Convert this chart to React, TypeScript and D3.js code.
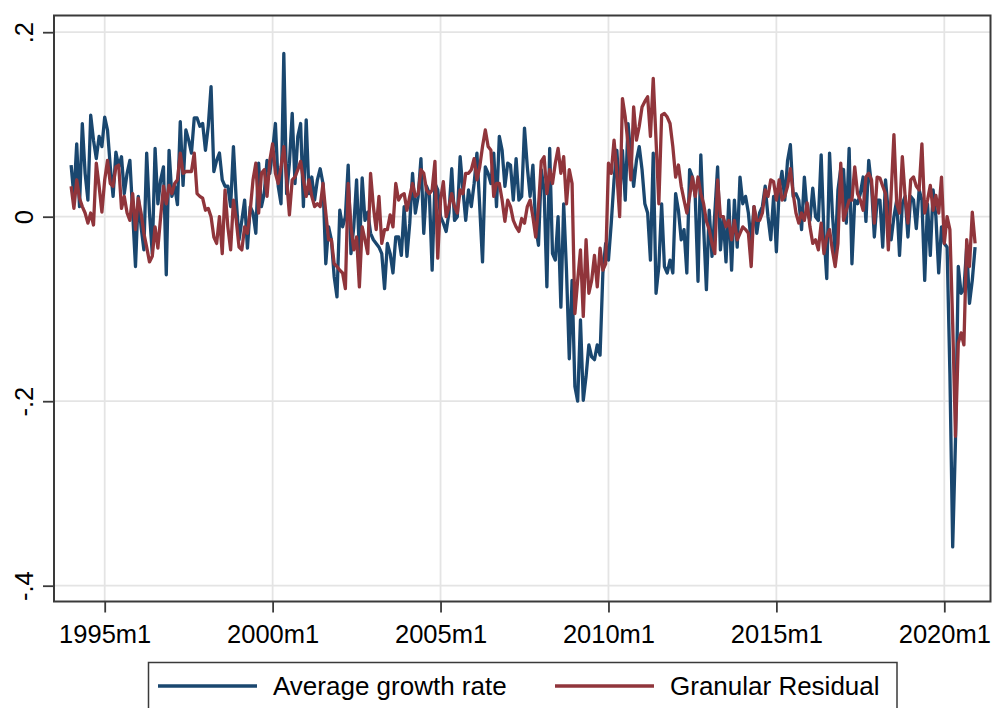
import * as d3 from "d3";
import React from "react";

// monthly series, first value is 1994m1
const startYear = 1994;

const avgGrowth = [
  0.056, 0.022, 0.079, 0.011, 0.101, 0.047, 0.018, 0.11, 0.083, 0.063, 0.087, 0.076,
  0.108, 0.094, 0.054, 0.022, 0.07, 0.054, 0.065, 0.025, 0.047, 0.061, 0.004, -0.054,
  0.022, -0.011, -0.036, 0.069, 0.004, -0.04, 0.074, 0.014, 0.04, 0.054, -0.063, 0.072,
  0.022, 0.033, 0.013, 0.103, 0.034, 0.094, 0.083, 0.069, 0.107, 0.107, 0.098, 0.101,
  0.072, 0.098, 0.141, 0.049, 0.061, 0.069, 0.04, 0.033, 0.033, 0.011, 0.076, 0.018,
  -0.025, -0.004, 0.018, -0.034, 0.011, 0.004, -0.018, 0.058, 0.011, 0.025, 0.061, 0.047,
  0.072, 0.101, 0.033, 0.014, 0.177, 0.025, 0.058, 0.112, 0.036, 0.087, 0.101, 0.011,
  0.105, 0.025, 0.043, 0.018, 0.04, 0.052, 0.036, -0.051, -0.011, -0.025, -0.065, -0.087,
  0.007, -0.011, 0.0, 0.056, -0.04, -0.011, 0.04, -0.04, 0.042, -0.004, 0.005, -0.018,
  -0.025, -0.029, -0.033, -0.04, -0.078, -0.029, -0.04, -0.061, -0.022, -0.022, -0.042, 0.011,
  -0.043, -0.007, 0.047, 0.004, 0.022, 0.063, -0.018, 0.033, 0.025, -0.058, 0.036, 0.029,
  0.0, -0.007, -0.016, 0.004, 0.052, -0.004, 0.0, 0.065, 0.029, -0.004, 0.029, 0.011,
  0.036, 0.069, 0.011, -0.049, 0.054, 0.047, 0.036, 0.069, 0.011, 0.087, 0.072, 0.033,
  0.058, 0.056, 0.018, 0.063, 0.018, 0.022, 0.096, 0.054, 0.022, 0.056, -0.011, -0.031,
  0.051, 0.029, -0.076, 0.074, -0.04, -0.047, 0.0, -0.098, 0.014, -0.058, -0.154, -0.069,
  -0.184, -0.2, -0.112, -0.199, -0.173, -0.139, -0.152, -0.155, -0.139, -0.15, -0.061, -0.029,
  -0.047, -0.007, 0.04, 0.072, 0.022, 0.072, 0.018, 0.101, 0.065, 0.033, 0.061, 0.076,
  0.051, 0.014, 0.004, -0.047, 0.069, -0.083, -0.054, 0.014, -0.054, -0.061, -0.047, -0.061,
  0.025, 0.007, -0.025, -0.014, -0.061, 0.051, 0.043, 0.022, -0.07, 0.067, -0.011, -0.079,
  0.007, -0.043, 0.004, 0.054, -0.036, 0.0, -0.049, 0.018, -0.058, 0.018, -0.033, 0.043,
  0.014, 0.022, 0.004, -0.029, 0.011, -0.018, 0.004, 0.011, 0.033, 0.0, -0.025, 0.022,
  -0.038, 0.029, 0.049, 0.018, 0.061, 0.078, 0.022, 0.025, 0.018, -0.014, 0.043, 0.005,
  -0.004, 0.031, 0.0, -0.004, 0.067, -0.018, -0.067, 0.069, 0.004, -0.04, 0.029, 0.052,
  0.051, -0.007, 0.074, -0.051, 0.018, 0.014, 0.025, 0.043, -0.005, 0.061, 0.033, -0.022,
  0.018, 0.018, -0.033, 0.04, 0.004, -0.025, 0.0, 0.018, -0.042, 0.014, 0.022, -0.022,
  0.022, 0.018, -0.013, 0.029, 0.018, -0.069, 0.014, -0.042, 0.029, 0.0, -0.061, -0.011,
  -0.029, -0.033, -0.17, -0.358, -0.242, -0.054, -0.083, -0.079, -0.033, -0.094, -0.069, -0.033,
];

const granularResidual = [
  0.033, 0.009, 0.04, 0.02, 0.011, 0.004, -0.007, 0.004, -0.009, 0.058, 0.033, 0.005,
  0.04, 0.061, 0.036, 0.033, 0.054, 0.056, 0.009, 0.022, 0.004, -0.004, 0.025, -0.014,
  0.02, 0.004, -0.018, -0.033, -0.049, -0.043, -0.011, -0.034, 0.0, 0.033, 0.014, 0.034,
  0.025, 0.036, 0.04, 0.069, 0.047, 0.049, 0.049, 0.049, 0.069, 0.025, 0.022, 0.02,
  0.007, 0.009, 0.0, -0.022, -0.029, 0.0, -0.04, 0.029, -0.011, -0.036, 0.018, -0.004,
  -0.033, -0.036, -0.011, -0.018, 0.007, 0.04, 0.058, 0.004, 0.047, 0.051, 0.022, 0.061,
  0.079, 0.047, 0.036, 0.054, 0.076, 0.04, 0.002, 0.04, 0.043, 0.051, 0.06, 0.04,
  0.022, 0.04, 0.022, 0.011, 0.014, 0.011, 0.036, 0.004, -0.025, -0.025, -0.051, -0.054,
  -0.058, -0.061, -0.078, 0.036, -0.011, -0.036, -0.022, -0.076, -0.011, -0.025, -0.04, 0.047,
  0.011, -0.014, 0.022, -0.029, -0.014, -0.014, 0.002, -0.011, 0.036, 0.018, 0.023, 0.025,
  0.007, 0.022, 0.036, 0.022, 0.025, 0.051, 0.047, 0.029, 0.025, 0.029, 0.06, -0.045,
  0.018, 0.038, 0.0, 0.011, 0.025, 0.011, 0.004, 0.029, 0.025, 0.047, 0.047, 0.051,
  0.063, 0.04, 0.054, 0.076, 0.094, 0.076, 0.072, 0.022, 0.036, 0.036, 0.018, -0.005,
  0.018, 0.011, -0.004, -0.011, -0.016, -0.002, -0.007, 0.011, 0.018, 0.0, -0.022, 0.011,
  0.06, 0.065, 0.025, 0.051, 0.036, 0.058, 0.074, 0.047, 0.065, 0.014, 0.051, 0.036,
  -0.105, -0.069, -0.036, -0.108, -0.025, -0.083, -0.069, -0.042, -0.076, -0.034, -0.058, -0.051,
  0.058, 0.047, 0.083, 0.047, 0.0, 0.128, 0.108, 0.079, 0.04, 0.119, 0.083, 0.098,
  0.119, 0.125, 0.13, 0.087, 0.15, 0.083, 0.014, 0.11, 0.112, 0.108, 0.101, 0.076,
  0.043, 0.056, 0.033, 0.018, 0.004, 0.022, 0.043, 0.022, 0.043, 0.025, 0.014, -0.005,
  -0.014, -0.029, -0.04, 0.04, 0.0, 0.0, -0.011, -0.004, -0.025, -0.004, -0.025, -0.018,
  -0.011, -0.014, -0.018, -0.054, 0.011, -0.004, -0.004, 0.004, 0.029, 0.022, 0.04, 0.038,
  0.018, 0.04, 0.018, 0.022, 0.033, 0.052, 0.025, 0.004, -0.007, 0.004, -0.004, 0.015,
  -0.011, -0.029, -0.025, -0.036, -0.007, -0.04, -0.022, -0.014, -0.036, -0.054, -0.029, 0.058,
  -0.004, 0.007, 0.018, 0.018, 0.054, 0.025, 0.018, 0.007, 0.043, 0.047, 0.04, -0.007,
  0.043, 0.042, 0.033, 0.025, -0.036, 0.025, 0.089, 0.014, 0.004, 0.065, 0.022, -0.007,
  0.04, 0.043, 0.033, 0.029, 0.079, 0.004, 0.018, 0.034, 0.007, 0.023, 0.004, 0.043,
  -0.029, 0.0, -0.014, -0.116, -0.238, -0.137, -0.126, -0.139, -0.025, -0.054, 0.005, -0.029,
];

const xTickLabels = ["1995m1", "2000m1", "2005m1", "2010m1", "2015m1", "2020m1"];
const yTickValues = [0.2, 0, -0.2, -0.4];
const yTickLabels = [".2", "0", "-.2", "-.4"];
const seriesNames = ["Average growth rate", "Granular Residual"];
const seriesColors = ["#1a476f", "#90353b"];

const font = "'Liberation Sans', Arial, Helvetica, sans-serif";

// "1995m1" -> months since startYear m1
const monthIndex = (label: string): number => {
  const [y, m] = label.split("m").map(Number);
  return (y - startYear) * 12 + m - 1;
};

const App = (): React.ReactElement => {
  const chartRef = React.useRef<SVGSVGElement>(null);

  React.useEffect(() => {
    const svg = d3.select(chartRef.current);
    svg.selectAll("*").remove();

    const frame = { left: 54, right: 990.5, top: 15.5, bottom: 601.5 };

    const xScale = d3.scaleLinear().domain([12, 312]).range([104.7, 944.3]);
    const yScale = d3.scaleLinear().domain([-0.4, 0.2]).range([585.7, 32.2]);

    svg.append("rect").attr("width", 993).attr("height", 708).attr("fill", "#fff");

    // grid
    const grid = svg.append("g").attr("stroke", "#e4e4e4").attr("stroke-width", 1.8);
    grid
      .selectAll("line.vgrid")
      .data(xTickLabels.map(monthIndex))
      .join("line")
      .attr("class", "vgrid")
      .attr("x1", (d) => xScale(d))
      .attr("x2", (d) => xScale(d))
      .attr("y1", frame.top)
      .attr("y2", frame.bottom);
    grid
      .selectAll("line.hgrid")
      .data(yTickValues)
      .join("line")
      .attr("class", "hgrid")
      .attr("x1", frame.left)
      .attr("x2", frame.right)
      .attr("y1", (d) => yScale(d))
      .attr("y2", (d) => yScale(d));

    // lines
    const line = d3
      .line<number>()
      .x((_, i) => xScale(i))
      .y((d) => yScale(d));

    [avgGrowth, granularResidual].forEach((series, i) => {
      svg
        .append("path")
        .datum(series)
        .attr("fill", "none")
        .attr("stroke", seriesColors[i])
        .attr("stroke-width", 3.3)
        .attr("stroke-linejoin", "round")
        .attr("d", line);
    });

    // plot frame
    svg
      .append("rect")
      .attr("x", frame.left)
      .attr("y", frame.top)
      .attr("width", frame.right - frame.left)
      .attr("height", frame.bottom - frame.top)
      .attr("fill", "none")
      .attr("stroke", "#3a3a3a")
      .attr("stroke-width", 2);

    // x axis
    const xAxis = d3
      .axisBottom(xScale)
      .tickValues(xTickLabels.map(monthIndex))
      .tickFormat((_, i) => xTickLabels[i])
      .tickSize(11)
      .tickPadding(12);
    svg
      .append("g")
      .attr("transform", `translate(0, ${frame.bottom})`)
      .call(xAxis)
      .call((g) => g.select(".domain").remove())
      .call((g) => g.selectAll("line").attr("stroke", "#3a3a3a").attr("stroke-width", 1.8))
      .call((g) =>
        g
          .selectAll("text")
          .attr("fill", "#000")
          .attr("font-size", 25.5)
          .attr("font-family", font)
      );

    // y axis, labels turned vertical as in Stata
    const yAxis = d3
      .axisLeft(yScale)
      .tickValues(yTickValues)
      .tickFormat((_, i) => yTickLabels[i])
      .tickSize(11);
    svg
      .append("g")
      .attr("transform", `translate(${frame.left}, 0)`)
      .call(yAxis)
      .call((g) => g.select(".domain").remove())
      .call((g) => g.selectAll("line").attr("stroke", "#3a3a3a").attr("stroke-width", 1.8))
      .call((g) =>
        g
          .selectAll("text")
          .attr("fill", "#000")
          .attr("font-size", 25.5)
          .attr("font-family", font)
          .attr("x", 0)
          .attr("y", -21)
          .attr("dy", null)
          .attr("text-anchor", "middle")
          .attr("transform", "rotate(-90)")
      );

    // legend
    const legend = svg.append("g");
    legend
      .append("rect")
      .attr("x", 148.5)
      .attr("y", 662.5)
      .attr("width", 748.5)
      .attr("height", 60)
      .attr("fill", "#fff")
      .attr("stroke", "#3a3a3a")
      .attr("stroke-width", 1.5);

    const keyX = [158, 555];
    seriesNames.forEach((name, i) => {
      legend
        .append("line")
        .attr("x1", keyX[i])
        .attr("x2", keyX[i] + 99)
        .attr("y1", 686)
        .attr("y2", 686)
        .attr("stroke", seriesColors[i])
        .attr("stroke-width", 3.3);
      legend
        .append("text")
        .attr("x", keyX[i] + 115)
        .attr("y", 695)
        .attr("font-size", 26)
        .attr("font-family", font)
        .attr("fill", "#000")
        .text(name);
    });
  }, []);

  return (
    <div style={{ position: "absolute", left: 0, top: 0 }}>
      <svg ref={chartRef} width={993} height={708}></svg>
    </div>
  );
};

export default App;
